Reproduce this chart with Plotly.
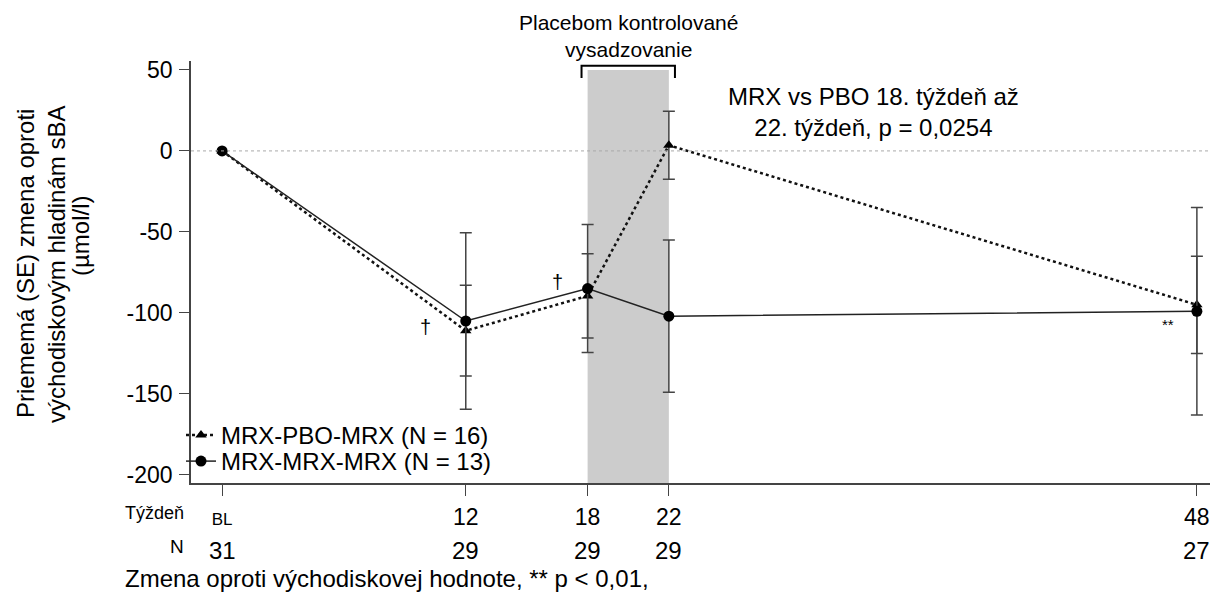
import plotly.graph_objects as go

# ---- data ----
weeks = [0, 12, 18, 22, 48]
week_labels = ["BL", "12", "18", "22", "48"]
n_patients = [31, 29, 29, 29, 27]

pbo_name = "MRX-PBO-MRX (N = 16)"
pbo_mean = [0, -111, -89.5, 3.5, -95]
pbo_se = [0, 28, 26, 21, 30]

mrx_name = "MRX-MRX-MRX (N = 13)"
mrx_mean = [0, -105, -85, -102, -99]
mrx_se = [0, 54.5, 39.5, 47, 64]

pbo_window = [18, 22]
yticks = [-200, -150, -100, -50, 0, 50]
ytick_labels = ["-200", "-150", "-100", "-50", "0", "50"]

ytitle_lines = ["Priememá (SE) zmena oproti", "východiskovým hladinám sBA", "(µmol/l)"]

FONT = "Liberation Sans, Arial, sans-serif"
# page body has an 8px margin; figure is laid out in reference pixel space
OFF = 8
W, H = 1218 - OFF, 594 - OFF
REF_L, REF_T, REF_R, REF_B = 191, 61, 1218, 483
ML, MT = REF_L - OFF, REF_T - OFF
PW, PH = REF_R - REF_L, REF_B - REF_T
MR = W - ML - PW
MB = H - MT - PH


def px_x(p):
    return (p - REF_L) / PW


def px_y(p):
    return (REF_B - p) / PH


fig = go.Figure()

fig.add_trace(go.Scatter(
    x=weeks, y=pbo_mean, name=pbo_name, mode="lines+markers", legend="legend",
    line=dict(color="#111111", width=2.5, dash="dot"),
    marker=dict(symbol="triangle-up", size=10, color="black"),
    error_y=dict(type="data", array=pbo_se, color="#444444", thickness=1.5, width=6),
))
fig.add_trace(go.Scatter(
    x=weeks, y=mrx_mean, name=mrx_name, mode="lines+markers", legend="legend2",
    line=dict(color="#222222", width=1.5),
    marker=dict(symbol="circle", size=11, color="black"),
    error_y=dict(type="data", array=mrx_se, color="#444444", thickness=1.5, width=6),
))

# shaded placebo-controlled window
fig.add_shape(type="rect", xref="x", yref="y", x0=pbo_window[0], x1=pbo_window[1],
              y0=-205, y1=50, fillcolor="#cccccc", line=dict(width=0), layer="below")
# bracket above window
pad = 0.3
fig.add_shape(type="path", xref="x", yref="y",
              path=f"M {pbo_window[0]-pad},45 L {pbo_window[0]-pad},52.5 L {pbo_window[1]+pad},52.5 L {pbo_window[1]+pad},45",
              line=dict(color="black", width=2))
# zero reference line
fig.add_shape(type="line", xref="paper", yref="y", x0=0, x1=1, y0=0, y1=0,
              line=dict(color="#aaaaaa", width=1, dash="dot"), layer="above")


def A(**kw):
    kw.setdefault("showarrow", False)
    kw.setdefault("xanchor", "center")
    kw.setdefault("yanchor", "middle")
    return kw


ann = []
ann.append(A(text="Placebom kontrolované<br>vysadzovanie", x=20, xref="x",
             y=px_y(36), yref="paper", font=dict(size=21)))
ann.append(A(text="MRX vs PBO 18. týždeň až<br>22. týždeň, p = 0,0254", x=32.1, xref="x",
             y=23.8, yref="y", font=dict(size=24)))
ann.append(A(text="†", x=10, y=-109, xref="x", yref="y", font=dict(size=20)))
ann.append(A(text="†", x=16.5, y=-81, xref="x", yref="y", font=dict(size=20)))
ann.append(A(text="**", x=46.6, y=-107, xref="x", yref="y", font=dict(size=15)))
for line, xc, yc in zip(ytitle_lines, [25, 56, 80], [264, 265, 236]):
    ann.append(A(text=line, x=px_x(xc), y=px_y(yc), xref="paper", yref="paper",
                 textangle=-90, font=dict(size=24)))
ann.append(A(text="Týždeň", x=px_x(186), y=px_y(513), xref="paper", yref="paper",
             xanchor="right", font=dict(size=18)))
ann.append(A(text="N", x=px_x(186), y=px_y(546), xref="paper", yref="paper",
             xanchor="right", font=dict(size=19)))
for w, n in zip(weeks, n_patients):
    ann.append(A(text=str(n), x=w, xref="x", y=px_y(550), yref="paper",
                 font=dict(size=24)))
ann.append(A(text="Zmena oproti východiskovej hodnote, ** p < 0,01,", x=px_x(123), y=px_y(578),
             xref="paper", yref="paper", xanchor="left", font=dict(size=24)))

ticktext = [f"<span style='font-size:17px'>{t}</span>" if t == "BL" else t for t in week_labels]

leg_common = dict(xanchor="left", yanchor="top", bgcolor="rgba(0,0,0,0)",
                  font=dict(size=24), itemwidth=30)

fig.update_layout(
    width=W, height=H,
    margin=dict(l=ML, r=MR, t=MT, b=MB, pad=0),
    paper_bgcolor="white", plot_bgcolor="white",
    font=dict(family=FONT, color="black", size=22),
    annotations=ann,
    showlegend=True,
    legend=dict(x=px_x(181), y=px_y(413), **leg_common),
    legend2=dict(x=px_x(181), y=px_y(439), **leg_common),
    xaxis=dict(range=[-1.53, 49.04], tickvals=weeks, ticktext=ticktext,
               showline=True, linecolor="#444444", linewidth=1.5, ticks="outside",
               ticklen=11, tickcolor="#444444", showgrid=False, zeroline=False,
               tickfont=dict(size=23), ticklabelstandoff=2),
    yaxis=dict(range=[-205, 55.5], tickvals=yticks, ticktext=ytick_labels,
               showline=True, linecolor="#444444",
               linewidth=1.5, ticks="outside", ticklen=10, tickcolor="#444444",
               showgrid=False, zeroline=False, tickfont=dict(size=23),
               ticklabelstandoff=2),
)

fig.write_html("out.html")
